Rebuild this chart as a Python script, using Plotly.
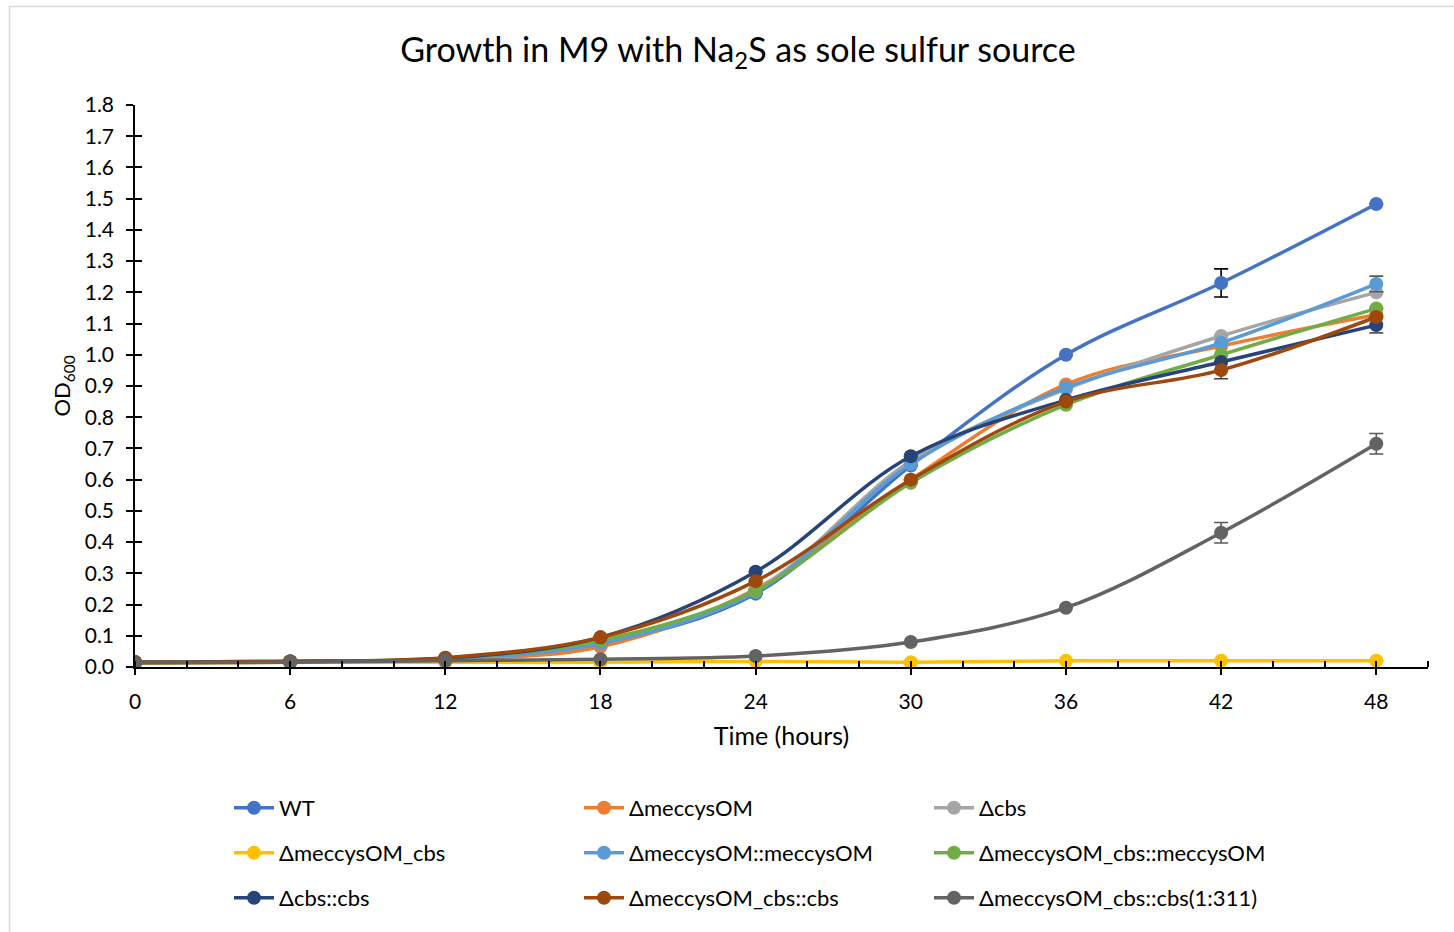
import plotly.graph_objects as go

times = [0, 6, 12, 18, 24, 30, 36, 42, 48]

names = ["WT", "ΔmeccysOM", "Δcbs",
         "ΔmeccysOM_cbs", "ΔmeccysOM::meccysOM", "ΔmeccysOM_cbs::meccysOM",
         "Δcbs::cbs", "ΔmeccysOM_cbs::cbs", "ΔmeccysOM_cbs::cbs(1:311)"]

wt = [0.015, 0.018, 0.025, 0.075, 0.235, 0.645, 1.0, 1.23, 1.483]
d_mec = [0.015, 0.018, 0.025, 0.065, 0.25, 0.60, 0.905, 1.028, 1.128]
d_cbs = [0.015, 0.018, 0.025, 0.08, 0.245, 0.66, 0.89, 1.06, 1.20]
d_mec_cbs = [0.012, 0.015, 0.015, 0.015, 0.018, 0.015, 0.02, 0.02, 0.02]
d_mec_comp = [0.015, 0.018, 0.025, 0.075, 0.24, 0.65, 0.895, 1.038, 1.227]
d_mec_cbs_mec = [0.015, 0.018, 0.028, 0.085, 0.245, 0.59, 0.84, 1.0, 1.148]
d_cbs_comp = [0.015, 0.018, 0.028, 0.095, 0.305, 0.675, 0.855, 0.977, 1.095]
d_mec_cbs_cbs = [0.015, 0.018, 0.03, 0.095, 0.275, 0.60, 0.85, 0.951, 1.121]
d_mec_cbs_311 = [0.013, 0.015, 0.02, 0.025, 0.035, 0.08, 0.19, 0.43, 0.715]

series = [wt, d_mec, d_cbs, d_mec_cbs, d_mec_comp, d_mec_cbs_mec,
          d_cbs_comp, d_mec_cbs_cbs, d_mec_cbs_311]

errors = [
    [0, 0, 0, 0, 0, 0, 0, 0.045, 0],
    [0, 0, 0, 0, 0, 0, 0, 0, 0],
    [0, 0, 0, 0, 0, 0, 0, 0, 0],
    [0, 0, 0, 0, 0, 0, 0, 0, 0],
    [0, 0, 0, 0, 0, 0, 0, 0, 0.025],
    [0, 0, 0, 0, 0, 0, 0, 0, 0],
    [0, 0, 0, 0, 0, 0, 0, 0, 0.025],
    [0, 0, 0, 0, 0, 0, 0, 0.028, 0],
    [0, 0, 0, 0, 0, 0, 0, 0.033, 0.033],
]

colors = ["#4472C4", "#ED7D31", "#A5A5A5", "#FFC000", "#5B9BD5", "#70AD47",
          "#264478", "#9E480E", "#636363"]
err_colors = ["#000000", "#404040", "#404040", "#404040", "#595959", "#404040",
              "#595959", "#404040", "#595959"]
legend_ids = ["legend", "legend", "legend", "legend2", "legend2", "legend2",
              "legend3", "legend3", "legend3"]

FONT = "Lato, 'Open Sans', sans-serif"
W, H = 1454, 932
ML, MR, MT, MB = 135, 26, 105, 265
PW, PH = W - ML - MR, H - MT - MB


def px_to_paper_x(px):
    return (px - ML) / PW


def px_to_paper_y(py):
    return (H - MB - py) / PH


fig = go.Figure()
for name, ys, err, col, ecol, lg in zip(names, series, errors, colors, err_colors, legend_ids):
    fig.add_trace(go.Scatter(
        x=times, y=ys, name=name, mode="lines+markers",
        line=dict(color=col, width=3.5, shape="spline", smoothing=1),
        marker=dict(color=col, size=14),
        error_y=dict(type="data", array=err, color=ecol, thickness=1.6, width=7, visible=True),
        legend=lg,
    ))

# helper trace for inside y ticks
fig.add_trace(go.Scatter(x=[0], y=[0], yaxis="y2", mode="markers",
                         marker=dict(opacity=0), showlegend=False, hoverinfo="skip"))

legend_common = dict(orientation="h", xref="paper", yref="paper", xanchor="left",
                     yanchor="middle", entrywidth=295, entrywidthmode="pixels",
                     font=dict(family=FONT, size=22, color="#000000"),
                     bgcolor="rgba(0,0,0,0)", itemwidth=40, traceorder="normal")

LEG_X = px_to_paper_x(229)

fig.update_layout(
    width=W, height=H,
    margin=dict(l=ML, r=MR, t=MT, b=MB),
    paper_bgcolor="white", plot_bgcolor="white",
    font=dict(family=FONT, color="#000000"),
    title=dict(text="Growth in M9 with Na<sub>2</sub>S as sole sulfur source",
               x=738 / W, xanchor="center", xref="container",
               y=1 - 50 / H, yanchor="middle", yref="container",
               font=dict(family=FONT, size=34, color="#000000")),
    xaxis=dict(range=[0, 50], tickmode="linear", tick0=0, dtick=6,
               ticks="outside", ticklen=6, tickwidth=1.5, tickcolor="#000000",
               minor=dict(ticks="inside", dtick=2, tick0=0, ticklen=6, tickwidth=1.5,
                          tickcolor="#000000", showgrid=False),
               showline=True, linecolor="#000000", linewidth=1.5,
               showgrid=False, zeroline=False,
               tickfont=dict(family=FONT, size=21, color="#000000"),
               ticklabelstandoff=9,
               title=dict(text="Time (hours)", standoff=16,
                          font=dict(family=FONT, size=25, color="#000000"))),
    yaxis=dict(range=[0, 1.8], tickmode="linear", tick0=0, dtick=0.1,
               tickformat=".1f",
               ticks="outside", ticklen=7, tickwidth=1.5, tickcolor="#000000",
               showline=True, linecolor="#000000", linewidth=1.5,
               showgrid=False, zeroline=False,
               tickfont=dict(family=FONT, size=21, color="#000000"),
               ticklabelstandoff=8,
               title=dict(text="OD<sub>600</sub>", standoff=8,
                          font=dict(family=FONT, size=22, color="#000000"))),
    yaxis2=dict(range=[0, 1.8], overlaying="y", side="left", tickmode="linear",
                tick0=0, dtick=0.1, ticks="inside", ticklen=7, tickwidth=1.5,
                tickcolor="#000000", showticklabels=False, showgrid=False,
                zeroline=False, showline=False),
    legend=dict(legend_common, x=LEG_X, y=px_to_paper_y(808)),
    legend2=dict(legend_common, x=LEG_X, y=px_to_paper_y(853)),
    legend3=dict(legend_common, x=LEG_X, y=px_to_paper_y(898)),
    showlegend=True,
    shapes=[dict(type="rect", xref="paper", yref="paper",
                 x0=px_to_paper_x(9.5), x1=px_to_paper_x(1470),
                 y0=px_to_paper_y(950), y1=px_to_paper_y(6.5),
                 line=dict(color="#D9D9D9", width=1.5), fillcolor="rgba(0,0,0,0)",
                 layer="below")],
)

fig.write_html("out.html")
